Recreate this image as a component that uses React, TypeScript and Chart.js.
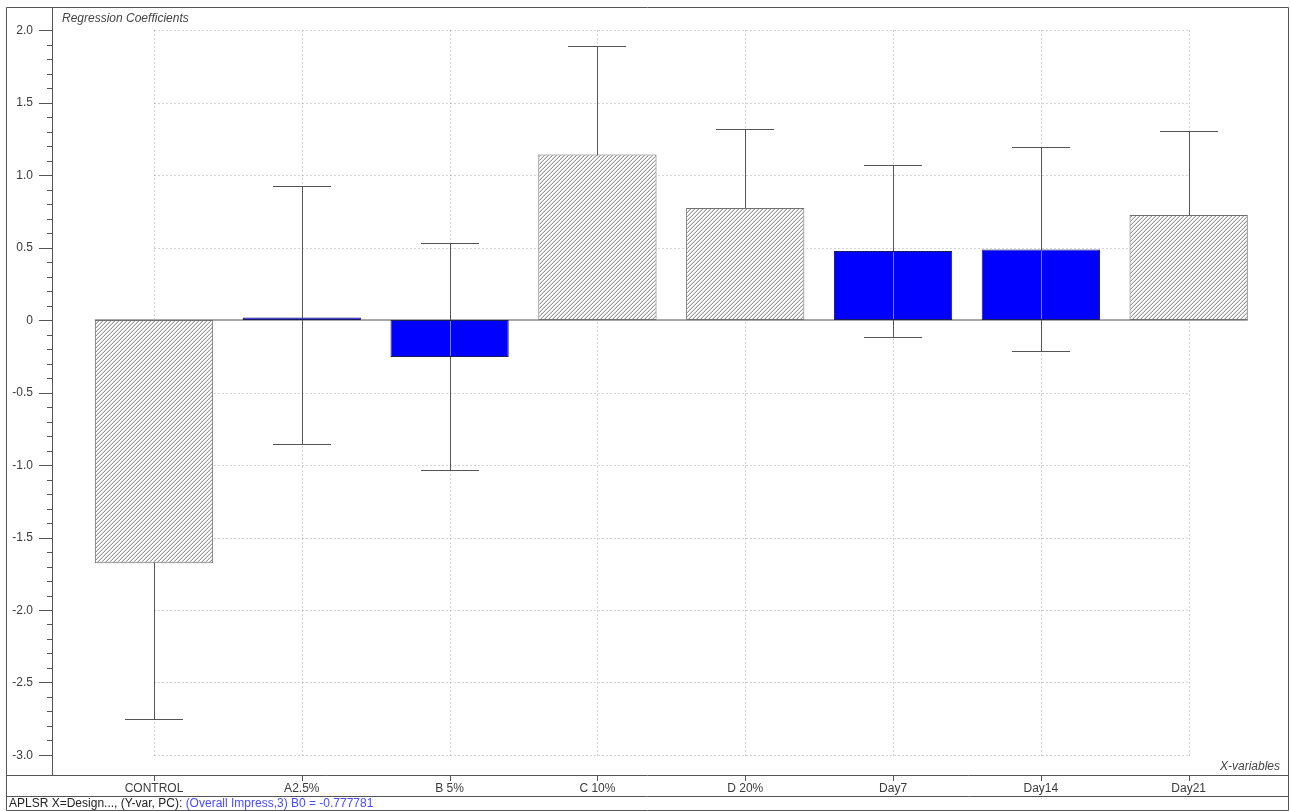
import React, { useEffect, useRef } from "react";
import { Chart, registerables } from "chart.js";

Chart.register(...registerables);

// Predictor names along the x axis
const categories = ["CONTROL", "A2.5%", "B 5%", "C 10%", "D 20%", "Day7", "Day14", "Day21"];

// Regression coefficient per predictor
const coefficients = [-1.678, 0.017, -0.255, 1.141, 0.772, 0.476, 0.487, 0.724];

// Uncertainty limits (lower / upper) per predictor
const lowerLimits = [-2.752, -0.855, -1.034, 0.392, 0.227, -0.115, -0.216, 0.145];
const upperLimits = [-0.604, 0.924, 0.531, 1.89, 1.317, 1.067, 1.193, 1.303];

// Significant coefficients are drawn hatched, the others solid blue
const significant = [true, false, false, true, true, false, false, true];

// Y axis labelled ticks and minor tick step
const yTickValues = [2.0, 1.5, 1.0, 0.5, 0, -0.5, -1.0, -1.5, -2.0, -2.5, -3.0];
const yTickLabels = ["2.0", "1.5", "1.0", "0.5", "0", "-0.5", "-1.0", "-1.5", "-2.0", "-2.5", "-3.0"];
const yMinorStep = 0.1;

const FONT = '12px "Liberation Sans", Arial, Helvetica, sans-serif';
const FONT_ITALIC = 'italic 12px "Liberation Sans", Arial, Helvetica, sans-serif';

// 4x4 tile with a "/" diagonal stripe
function makeHatch(): CanvasPattern | string {
  const tile = document.createElement("canvas");
  tile.width = 4;
  tile.height = 4;
  const c = tile.getContext("2d");
  if (!c) return "#dddddd";
  c.fillStyle = "#ffffff";
  c.fillRect(0, 0, 4, 4);
  for (let y = 0; y < 4; y++) {
    for (let x = 0; x < 4; x++) {
      const k = (x + y) % 4;
      if (k === 3) {
        c.fillStyle = "#979797";
        c.fillRect(x, y, 1, 1);
      } else if (k === 2) {
        c.fillStyle = "#dedede";
        c.fillRect(x, y, 1, 1);
      }
    }
  }
  const p = c.createPattern(tile, "repeat");
  return p || "#dddddd";
}

const px = (v: number) => Math.round(v) + 0.5;

const decorations = {
  id: "decorations",
  beforeDraw(chart: any) {
    const ctx = chart.ctx;
    ctx.save();
    ctx.fillStyle = "#ffffff";
    ctx.fillRect(0, 0, chart.width, chart.height);
    ctx.restore();
  },
  beforeDatasetsDraw(chart: any) {
    const ctx = chart.ctx;
    const xs = chart.scales.x;
    const ys = chart.scales.y;
    const yTop = ys.getPixelForValue(yTickValues[0]);
    const yBot = ys.getPixelForValue(yTickValues[yTickValues.length - 1]);
    const xFirst = xs.getPixelForValue(0);
    const xLast = xs.getPixelForValue(categories.length - 1);

    ctx.save();
    // dotted grid
    ctx.strokeStyle = "#a8a8a8";
    ctx.lineWidth = 1;
    ctx.setLineDash([1, 3]);
    ctx.beginPath();
    categories.forEach((_, i) => {
      const x = px(xs.getPixelForValue(i));
      ctx.moveTo(x, px(yTop));
      ctx.lineTo(x, px(yBot));
    });
    yTickValues.forEach((v) => {
      const y = px(ys.getPixelForValue(v));
      ctx.moveTo(px(xFirst), y);
      ctx.lineTo(px(xLast), y);
    });
    ctx.stroke();
    ctx.setLineDash([]);

    // zero baseline under the bars
    const y0 = ys.getPixelForValue(0);
    ctx.strokeStyle = "#a8a8a8";
    ctx.lineWidth = 2;
    ctx.beginPath();
    ctx.moveTo(xs.getPixelForValue(-0.4), Math.round(y0));
    ctx.lineTo(xs.getPixelForValue(categories.length - 1 + 0.4), Math.round(y0));
    ctx.stroke();

    // uncertainty whiskers (hidden behind the hatched bars)
    ctx.strokeStyle = "#555555";
    ctx.lineWidth = 1;
    ctx.beginPath();
    categories.forEach((_, i) => {
      const x = px(xs.getPixelForValue(i));
      const yl = px(ys.getPixelForValue(lowerLimits[i]));
      const yh = px(ys.getPixelForValue(upperLimits[i]));
      const xa = Math.round(xs.getPixelForValue(i - 0.196));
      const xb = Math.round(xs.getPixelForValue(i + 0.196));
      ctx.moveTo(x, yl);
      ctx.lineTo(x, yh);
      ctx.moveTo(xa, yl);
      ctx.lineTo(xb, yl);
      ctx.moveTo(xa, yh);
      ctx.lineTo(xb, yh);
    });
    ctx.stroke();
    ctx.restore();
  },
  afterDatasetsDraw(chart: any) {
    const ctx = chart.ctx;
    const xs = chart.scales.x;
    const ys = chart.scales.y;
    const area = chart.chartArea;
    const y0 = ys.getPixelForValue(0);

    ctx.save();
    // whisker seen through the solid bars
    ctx.strokeStyle = "#7c7cff";
    ctx.lineWidth = 1;
    ctx.beginPath();
    categories.forEach((_, i) => {
      if (significant[i]) return;
      const x = px(xs.getPixelForValue(i));
      const yv = ys.getPixelForValue(coefficients[i]);
      const a = Math.min(yv, y0) + 1;
      const b = Math.max(yv, y0) - 1;
      if (b > a) {
        ctx.moveTo(x, a);
        ctx.lineTo(x, b);
      }
    });
    ctx.stroke();

    const left = 6;
    const right = 1288;
    const top = 7;
    const bottom = 810;
    const axisY = area.bottom;
    const statusY = 796;

    // frame, x-axis strip and status bar separators
    ctx.strokeStyle = "#555555";
    ctx.lineWidth = 1;
    ctx.beginPath();
    ctx.rect(left + 0.5, top + 0.5, right - left, bottom - top);
    ctx.moveTo(left, px(axisY));
    ctx.lineTo(right + 1, px(axisY));
    ctx.moveTo(left, px(statusY));
    ctx.lineTo(right + 1, px(statusY));
    // y axis line
    ctx.moveTo(px(area.left), top);
    ctx.lineTo(px(area.left), px(axisY));
    ctx.stroke();

    // y ticks
    ctx.beginPath();
    const lo = yTickValues[yTickValues.length - 1];
    const hi = yTickValues[0];
    const nMinor = Math.round((hi - lo) / yMinorStep);
    for (let k = 0; k <= nMinor; k++) {
      const v = lo + k * yMinorStep;
      const y = px(ys.getPixelForValue(v));
      ctx.moveTo(area.left - 5, y);
      ctx.lineTo(area.left + 1, y);
    }
    yTickValues.forEach((v) => {
      const y = px(ys.getPixelForValue(v));
      ctx.moveTo(area.left - 13, y);
      ctx.lineTo(area.left + 1, y);
    });
    // x ticks below the axis strip line
    categories.forEach((_, i) => {
      const x = px(xs.getPixelForValue(i));
      ctx.moveTo(x, axisY);
      ctx.lineTo(x, axisY + 6);
    });
    ctx.stroke();

    // y labels
    ctx.fillStyle = "#3a3a3a";
    ctx.font = FONT;
    ctx.textAlign = "right";
    ctx.textBaseline = "middle";
    yTickValues.forEach((v, k) => {
      ctx.fillText(yTickLabels[k], area.left - 19, ys.getPixelForValue(v) + 0.5);
    });

    // x labels
    ctx.textAlign = "center";
    ctx.textBaseline = "alphabetic";
    categories.forEach((c, i) => {
      ctx.fillText(c, xs.getPixelForValue(i), 792);
    });

    // titles
    ctx.font = FONT_ITALIC;
    ctx.fillStyle = "#444444";
    ctx.textAlign = "left";
    ctx.fillText("Regression Coefficients", 62, 22);
    ctx.textAlign = "right";
    ctx.fillText("X-variables", 1280, 770);

    // status line
    ctx.font = FONT;
    ctx.textAlign = "left";
    ctx.fillStyle = "#222222";
    const part1 = "APLSR X=Design..., (Y-var, PC): ";
    ctx.fillText(part1, 9, 807);
    const w1 = ctx.measureText(part1).width;
    ctx.fillStyle = "#4a4aff";
    ctx.fillText("(Overall Impress,3) B0 = -0.777781", 9 + w1, 807);
    ctx.restore();
  },
};

export default function App() {
  const canvasRef = useRef<HTMLCanvasElement | null>(null);

  useEffect(() => {
    const canvas = canvasRef.current;
    if (!canvas) return;
    const hatch = makeHatch();
    const chart = new Chart(canvas, {
      type: "bar",
      data: {
        datasets: [
          {
            data: categories.map((_, i) => ({ x: i, y: coefficients[i] })),
            backgroundColor: significant.map((s) => (s ? hatch : "#0000ff")),
            borderColor: significant.map((s) => (s ? "#6e6e6e" : "#1a1a5a")),
            borderWidth: 1,
            borderSkipped: false,
            categoryPercentage: 0.8,
            barPercentage: 1.0,
          } as any,
        ],
      },
      options: {
        animation: false,
        responsive: false,
        events: [],
        layout: { padding: { left: 52, top: 8, right: 3, bottom: 36 } },
        plugins: {
          legend: { display: false },
          tooltip: { enabled: false },
          title: { display: false },
        },
        scales: {
          x: {
            type: "linear",
            display: false,
            offset: false,
            min: -0.69,
            max: 7.672,
            afterBuildTicks: (scale: any) => {
              scale.ticks = categories.map((_, i) => ({ value: i }));
            },
          },
          y: {
            type: "linear",
            display: false,
            min: -3.138,
            max: 2.152,
          },
        },
      } as any,
      plugins: [decorations],
    });
    return () => chart.destroy();
  }, []);

  return (
    <div style={{ position: "absolute", left: 0, top: 0, width: 1291, height: 811 }}>
      <canvas ref={canvasRef} width={1291} height={811} style={{ display: "block" }} />
    </div>
  );
}
